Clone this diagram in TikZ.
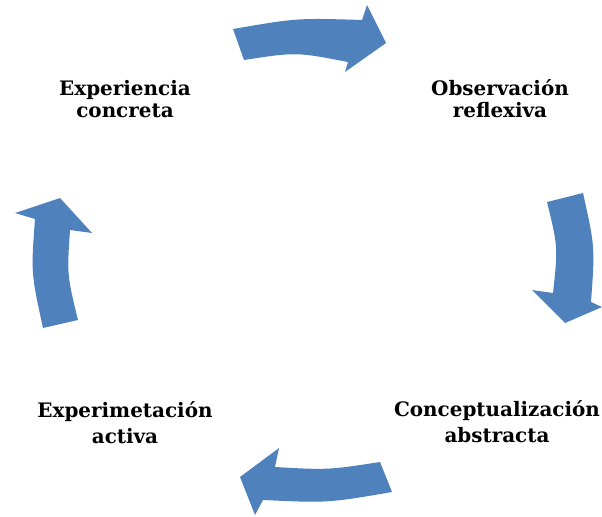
\documentclass[tikz,border=0pt]{standalone}
\usepackage{fontspec}
\setmainfont{DejaVu Serif}
\definecolor{cycleblue}{RGB}{79,129,189}
\tikzset{
  cyclearrow/.style={fill=cycleblue,draw=none},
  stagelabel/.style={font=\bfseries\fontsize{20}{22}\selectfont,align=center,inner sep=0pt},
}
\begin{document}
\begin{tikzpicture}[yscale=-1,line join=bevel,]
%%
\useasboundingbox (0bp,0bp) rectangle (602bp,517bp);
%
\node (exp_concreta) at (125bp,99bp) [stagelabel] {Experiencia\\concreta};
  \node (obs_reflexiva) at (500bp,99bp) [stagelabel] {Observación\\reflexiva};
  \node (conc_abstracta) at (497bp,422bp) [stagelabel] {Conceptualización\\[4bp]abstracta};
  \node (exp_activa) at (125bp,423bp) [stagelabel] {Experimetación\\[4bp]activa};
%
\path [cyclearrow] (233bp,29bp) .. controls (297bp,18bp) .. (362bp,20bp) -- (367bp,5bp) -- (386bp,43bp)
  -- (345bp,72bp) -- (348bp,62bp) .. controls (296bp,52bp) .. (244bp,60bp) -- cycle;
\path [cyclearrow] (547bp,202bp) -- (583bp,193bp) .. controls (595bp,247bp) .. (591bp,302bp) -- (602bp,307bp)
  -- (565bp,323bp) -- (532bp,290bp) -- (553bp,293bp) .. controls (558bp,247bp) .. (547bp,202bp) -- cycle;
\path [cyclearrow] (380bp,462bp) .. controls (328bp,470bp) .. (275bp,467bp) -- (279bp,448bp) -- (240bp,477bp)
  -- (255bp,515bp) -- (263bp,500bp) .. controls (328bp,503bp) .. (392bp,492bp) -- cycle;
\path [cyclearrow] (43bp,328bp) -- (78bp,320bp) .. controls (67bp,275bp) .. (70bp,230bp) -- (92bp,233bp)
  -- (60bp,198bp) -- (15bp,213bp) -- (35bp,219bp) .. controls (31bp,273bp) .. (43bp,328bp) -- cycle;
%
\end{tikzpicture}
\end{document}
